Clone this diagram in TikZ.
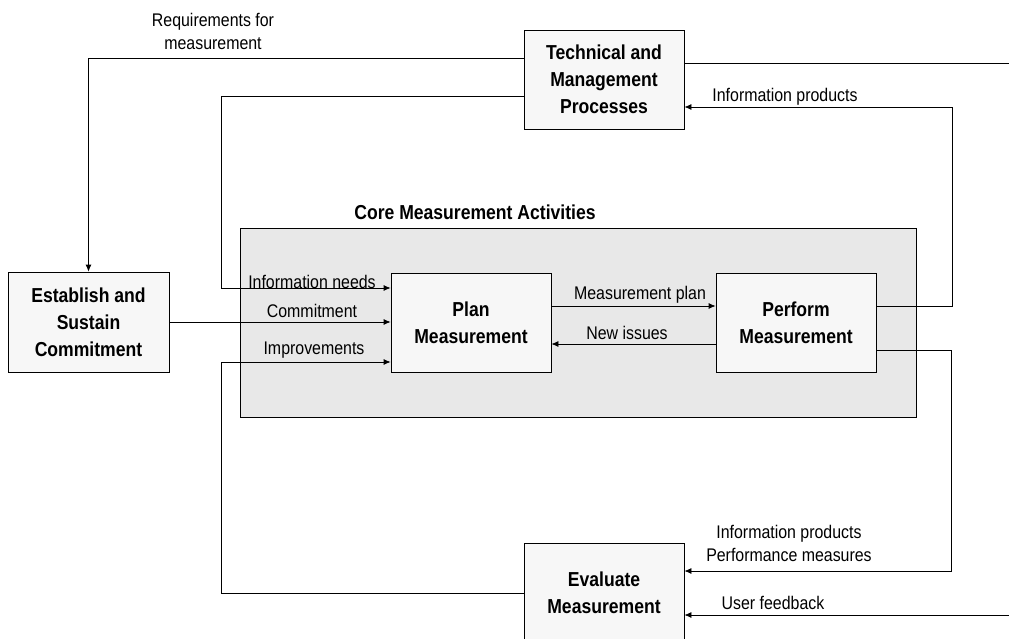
\documentclass[tikz,border=0pt]{standalone}
\usepackage{fontspec}
\setmainfont[FakeStretch=0.87]{Liberation Sans}
\usetikzlibrary{arrows.meta}

\begin{document}
\begin{tikzpicture}
      [x=1pt,y=-1pt,line width=.8pt
    % blocks and labels
      ,blok/.style={draw=black,fill=gray!6,minimum width=160pt,minimum height=99pt,
                    align=center,inner sep=2pt,
                    font=\bfseries\fontsize{20.2}{27}\selectfont}
      ,core/.style={draw=black,fill=black!9,minimum width=676pt,minimum height=189pt,inner sep=0pt}
      ,lbl/.style={align=center,inner sep=0pt,font=\fontsize{18.3}{23}\selectfont}
      ,arr/.style={-{Latex[length=7pt,width=6pt]}}
      ]
    \useasboundingbox (0,0) rectangle (1009,639);

    % gray frame of the core activities
        \node[core] (core) at (578,322.5) {};
        \node[lbl,font=\bfseries\fontsize{20.2}{27}\selectfont] (coretitle) at (475,212) {Core Measurement Activities};

    % the blocks
        \node[blok] (tmp)  at (604,79.5)  {Technical and\\Management\\Processes};
        \node[blok,minimum width=161pt,minimum height=100pt] (esc) at (88.5,322) {Establish and\\Sustain\\Commitment};
        \node[blok] (plan) at (471,322.5) {Plan\\Measurement};
        \node[blok] (perf) at (796,322.5) {Perform\\Measurement};
        \node[blok,minimum height=100pt] (eval) at (604,593) {Evaluate\\Measurement};

    % free ends at the right edge
        \coordinate (tmpout) at (1009,63);
        \coordinate (fbin) at (1009,615);

    % connectors
        \draw[arr] ([yshift=21.5pt]tmp.west) -| (esc.north);
        \draw[arr] ([yshift=-16.5pt]tmp.west) -- ++(-302,0) |- ([yshift=34.5pt]plan.west);
        \draw[arr] (esc.east) -- (esc.east -| plan.west);
        \draw[arr] (eval.west) -- ++(-302,0) |- ([yshift=-39.5pt]plan.west);
        \draw[arr] ([yshift=16.5pt]plan.east) -- ([yshift=16.5pt]perf.west);
        \draw[arr] ([yshift=-21.5pt]perf.west) -- ([yshift=-21.5pt]plan.east);
        \draw[arr] ([yshift=16.5pt]perf.east) -- ++(76,0) |- ([yshift=-27.5pt]tmp.east);
        \draw[arr] ([yshift=-27.5pt]perf.east) -- ++(75,0) |- ([yshift=22pt]eval.east);
        \draw ([yshift=16.5pt]tmp.east) -- (tmpout);
        \draw[arr] (fbin) -- (fbin -| eval.east);

    % connector labels
        \node[lbl] (lreq)  at (213,31)   {Requirements for\\measurement};
        \node[lbl] (linfo) at (785,97)   {Information products};
        \node[lbl] (lneed) at (312,282)  {Information needs};
        \node[lbl] (lcom)  at (312,311)  {Commitment};
        \node[lbl] (limp)  at (314,350)  {Improvements};
        \node[lbl] (lplan) at (640,295)  {Measurement plan};
        \node[lbl] (liss)  at (627,333)  {New issues};
        \node[lbl] (lprod) at (789,543.5) {Information products\\Performance measures};
        \node[lbl] (lfb)   at (773,603)  {User feedback};
       \end{tikzpicture}
\end{document}
